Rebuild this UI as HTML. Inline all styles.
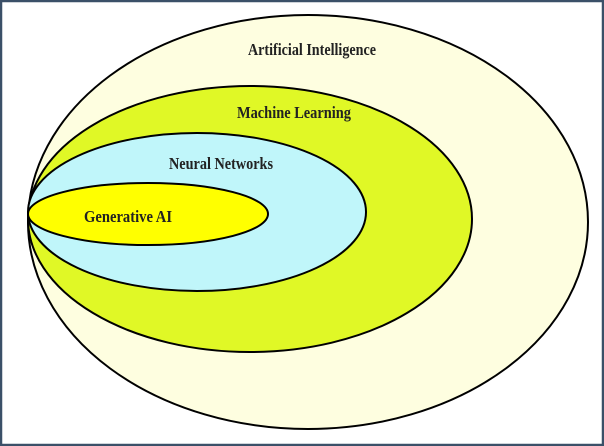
<!DOCTYPE html>
<html><head><style>
html,body{margin:0;padding:0;background:#fff;}
.f{width:604px;height:446px;position:relative;overflow:hidden;}
</style></head><body><div class="f">
<svg width="604" height="446" viewBox="0 0 604 446" xmlns="http://www.w3.org/2000/svg">
<rect x="1" y="1" width="602" height="444" fill="#fff" stroke="#3b5068" stroke-width="2.5"/>
<ellipse cx="308" cy="222" rx="280" ry="207" fill="#fefee0" stroke="#000" stroke-width="2"/>
<ellipse cx="250" cy="219" rx="222" ry="133" fill="#e0f826" stroke="#000" stroke-width="2"/>
<ellipse cx="197" cy="212" rx="169" ry="79" fill="#c0f6fa" stroke="#000" stroke-width="2"/>
<ellipse cx="148" cy="214" rx="120" ry="31" fill="#ffff00" stroke="#000" stroke-width="2"/>
<g font-family="Liberation Serif, serif" font-weight="bold" font-size="17" fill="#222" text-anchor="middle">
<text x="312" y="55" textLength="128" lengthAdjust="spacingAndGlyphs">Artificial Intelligence</text>
<text x="294" y="118" textLength="114" lengthAdjust="spacingAndGlyphs">Machine Learning</text>
<text x="221" y="169" textLength="104" lengthAdjust="spacingAndGlyphs">Neural Networks</text>
<text x="128" y="222" textLength="88" lengthAdjust="spacingAndGlyphs">Generative AI</text>
</g>
</svg>
</div></body></html>
